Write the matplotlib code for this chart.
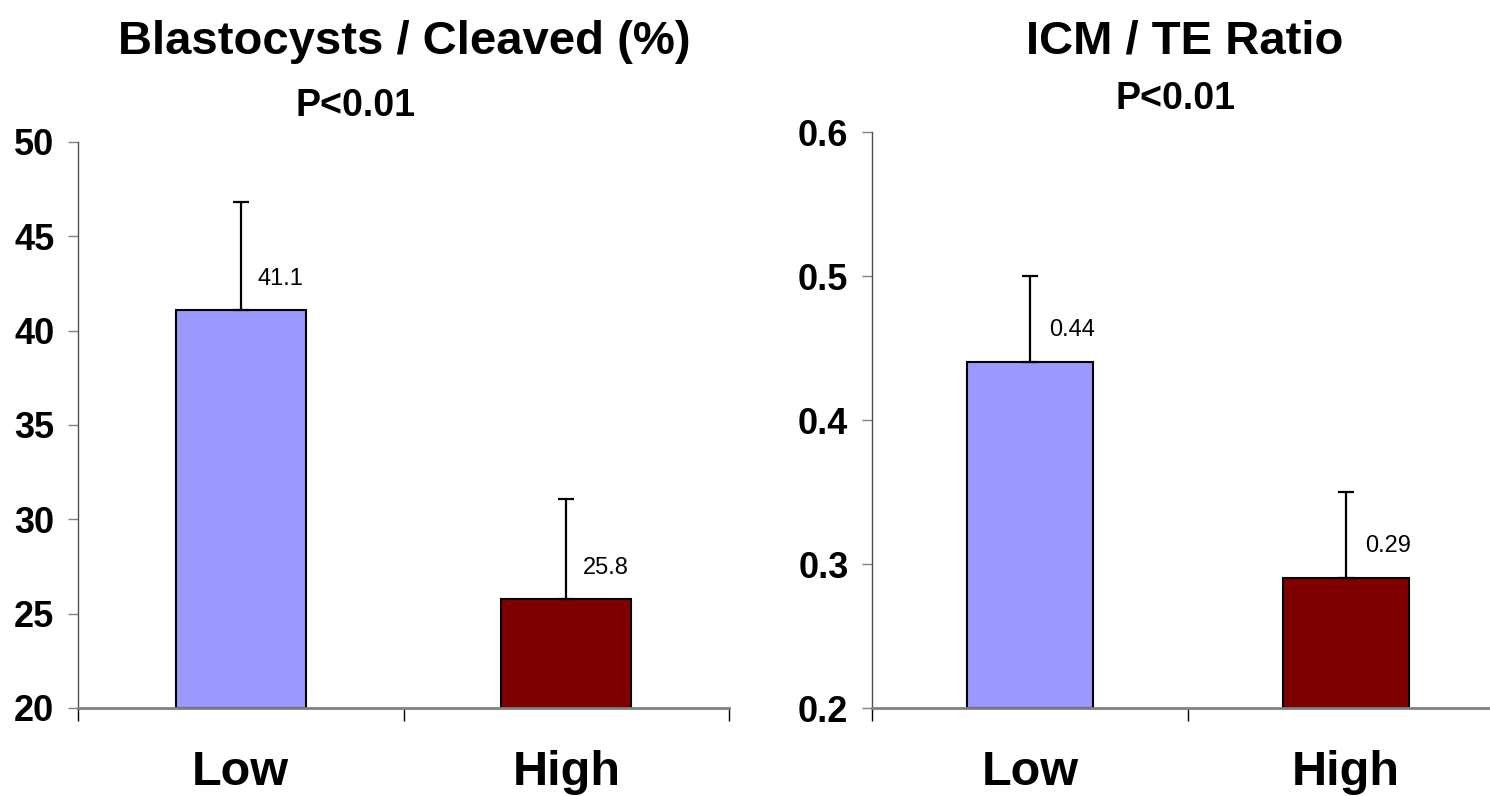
import matplotlib
matplotlib.use("Agg")
import matplotlib.pyplot as plt
from matplotlib.ticker import FixedLocator

# Data
categories = ["Low", "High"]
blast_values = [41.1, 25.8]
blast_errors = [5.7, 5.3]
ratio_values = [0.44, 0.29]
ratio_errors = [0.06, 0.06]
blast_labels = ["41.1", "25.8"]
ratio_labels = ["0.44", "0.29"]
blast_ticks = [20, 25, 30, 35, 40, 45, 50]
ratio_ticks = [0.2, 0.3, 0.4, 0.5, 0.6]
bar_colors = ["#9999FF", "#800000"]

FONT = ["Liberation Sans", "DejaVu Sans"]

W, H = 1490, 796
fig = plt.figure(figsize=(W / 100, H / 100), dpi=100)


def px(x0, y0, x1, y1):
    return [x0 / W, 1 - y1 / H, (x1 - x0) / W, (y1 - y0) / H]


def draw_panel(ax, values, errors, labels, ticks, fmt, lab_off):
    x = [1, 2]
    base = ticks[0]
    ax.bar(x, [v - base for v in values], bottom=base, width=0.4,
           color=bar_colors, edgecolor="black", linewidth=1.5, zorder=2)
    ax.errorbar(x, values, yerr=[[0, 0], errors], fmt="none", ecolor="black",
                elinewidth=1.6, capsize=5.5, capthick=1.6, zorder=3)
    for xi, v, t in zip(x, values, labels):
        ax.annotate(t, (xi, v), xytext=lab_off, textcoords="offset points",
                    ha="left", va="center", fontsize=17, family=FONT)
    ax.set_xlim(0.5, 2.5)
    ax.set_ylim(ticks[0], ticks[-1])
    ax.set_yticks(ticks)
    ax.set_yticklabels([fmt(t) for t in ticks], fontsize=26,
                       fontweight="bold", family=FONT)
    ax.tick_params(axis="y", length=7, width=1, color="#808080", pad=10)
    ax.set_xticks(x)
    ax.set_xticklabels(categories, fontsize=35, fontweight="bold", family=FONT)
    ax.tick_params(axis="x", which="major", length=0, pad=30)
    ax.xaxis.set_minor_locator(FixedLocator([0.5, 1.5, 2.5]))
    ax.tick_params(axis="x", which="minor", length=9, width=1, color="black")
    for s in ("top", "right"):
        ax.spines[s].set_visible(False)
    ax.spines["left"].set_color("#505050")
    ax.spines["left"].set_linewidth(1)
    ax.spines["bottom"].set_color("#808080")
    ax.spines["bottom"].set_linewidth(2)
    ax.set_facecolor("none")


ax1 = fig.add_axes(px(78, 142, 729, 708))
draw_panel(ax1, blast_values, blast_errors, blast_labels, blast_ticks,
           lambda t: f"{t:d}", (12, 22))

ax2 = fig.add_axes(px(872, 132, 1504, 708))
draw_panel(ax2, ratio_values, ratio_errors, ratio_labels, ratio_ticks,
           lambda t: f"{t:.1f}", (14, 23))

# Titles
fig.text(404 / W, 1 - 54 / H, "Blastocysts / Cleaved (%)", ha="center",
         va="baseline", fontsize=34, fontweight="bold", family=FONT)
fig.text(355 / W, 1 - 116 / H, "P<0.01", ha="center", va="baseline",
         fontsize=27, fontweight="bold", family=FONT)
fig.text(1185 / W, 1 - 54 / H, "ICM / TE Ratio", ha="center",
         va="baseline", fontsize=34, fontweight="bold", family=FONT)
fig.text(1175 / W, 1 - 109 / H, "P<0.01", ha="center", va="baseline",
         fontsize=27, fontweight="bold", family=FONT)

fig.savefig("out.png", dpi=100, facecolor="white")
